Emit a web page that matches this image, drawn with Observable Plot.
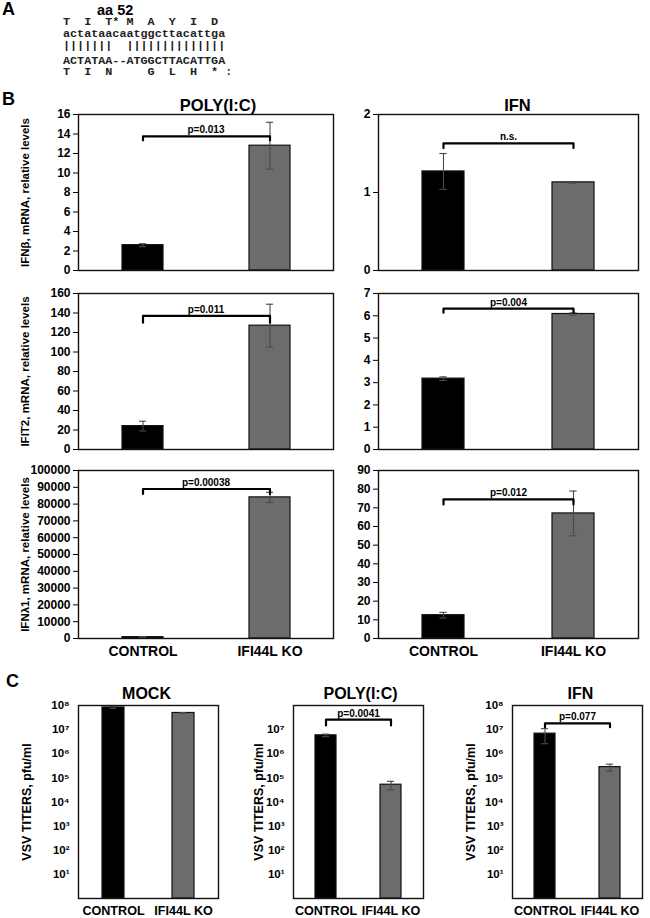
<!DOCTYPE html>
<html><head><meta charset="utf-8">
<script src="https://cdn.jsdelivr.net/npm/d3@7"></script>
<script src="https://cdn.jsdelivr.net/npm/@observablehq/plot@0.6"></script>
<style>
body{margin:0;background:#fff;}
#fig{position:relative;width:650px;height:918px;overflow:hidden;font-family:"Liberation Sans",Arial,sans-serif;color:#000;}
.abs{position:absolute;}
.letter{font-weight:bold;font-size:18px;line-height:1;}
.seqbox{position:absolute;left:63px;top:0;width:175px;height:85px;}
.seq{position:absolute;left:0;font-family:"Liberation Mono","Courier New",monospace;font-size:11.75px;font-weight:bold;white-space:pre;line-height:10px;color:#222;}
</style></head><body>
<div id="fig">
  <div class="abs letter" style="left:2px;top:0px;">A</div>
  <div class="abs" style="left:97px;top:3px;font-weight:bold;font-size:14.5px;line-height:14px;">aa 52</div>
  <div class="seqbox" id="seqbox"></div>
  <div class="abs letter" style="left:2px;top:90px;">B</div>
  <div class="abs letter" style="left:6px;top:672px;">C</div>
</div>
<script>
// ---- Panel A: sequence alignment text ----
const seqRows = [
  "T  I  T* M  A  Y  I  D",
  "actataacaatggcttacattga",
  "|||||||  ||||||||||||||",
  "ACTATAA--ATGGCTTACATTGA",
  "T  I  N     G  L  H  * :"
];
// ---- Panel B / C data ----
const groups = ["CONTROL", "IFI44L KO"];

const ifnbPoly = [2.6, 12.8],   ifnbPolyErr = [0.15, 2.4],  ifnbPolyBracket = [13.35, 13.75];
const ifnbIfn  = [1.27, 1.13],  ifnbIfnErr  = [0.23, 0.01], ifnbIfnBracket  = [1.57, 1.63];
const ifit2Poly = [24, 127],    ifit2PolyErr = [5, 22],     ifit2PolyBracket = [130, 137];
const ifit2Ifn  = [3.18, 6.08], ifit2IfnErr  = [0.08, 0.05], ifit2IfnBracket = [6.14, 6.32];
const ifnl1Poly = [800, 84000], ifnl1PolyErr = [300, 3000], ifnl1PolyBracket = [86000, 89000];
const ifnl1Ifn  = [12.5, 67],   ifnl1IfnErr  = [1.5, 12],   ifnl1IfnBracket  = [71.8, 74.5];

const vsvMock = [8.3e7, 4.9e7], vsvMockErr = [0.7e7, 0.2e7];
const vsvPoly = [5.8e6, 5.2e4], vsvPolyErr = [0.7e6, 2.0e4], vsvPolyBracket = [1.5e7, 2.6e7];
const vsvIfn  = [6.8e6, 2.8e5], vsvIfnErr  = [4.2e6, 0.9e5], vsvIfnBracket  = [1.26e7, 1.8e7];

const pLabels = ["p=0.013", "n.s.", "p=0.011", "p=0.004", "p=0.00038", "p=0.012", "p=0.0041", "p=0.077"];

const ticksIfnbPoly = [0, 2, 4, 6, 8, 10, 12, 14, 16];
const ticksIfnbIfn = [0, 1, 2];
const ticksIfit2Poly = [0, 20, 40, 60, 80, 100, 120, 140, 160];
const ticksIfit2Ifn = [0, 1, 2, 3, 4, 5, 6, 7];
const ticksIfnl1Poly = [0, 10000, 20000, 30000, 40000, 50000, 60000, 70000, 80000, 90000, 100000];
const ticksIfnl1Ifn = [0, 10, 20, 30, 40, 50, 60, 70, 80, 90];
const ticksVsv8 = [1e1, 1e2, 1e3, 1e4, 1e5, 1e6, 1e7, 1e8];
const ticksVsv7 = [1e1, 1e2, 1e3, 1e4, 1e5, 1e6, 1e7];

const yLabelsB = ["IFNβ, mRNA, relative levels", "IFIT2, mRNA, relative levels", "IFNλ1, mRNA, relative levels"];
const yLabelC = "VSV TITERS, pfu/ml";
const titles = ["POLY(I:C)", "IFN", "MOCK"];

// ---- render panel A text ----
const seqTops = [17, 28.5, 41, 55.5, 66.5];
const box = document.getElementById("seqbox");
seqRows.forEach((r, i) => {
  const d = document.createElement("div");
  d.className = "seq";
  d.style.top = seqTops[i] + "px";
  d.textContent = r;
  box.appendChild(d);
});

// ---- chart builder ----
const supMap = {"0":"⁰","1":"¹","2":"²","3":"³","4":"⁴","5":"⁵","6":"⁶","7":"⁷","8":"⁸","9":"⁹"};
const fmtPow = d => "10" + String(Math.round(Math.log10(d))).split("").map(c => supMap[c]).join("");
const FONT = '"Liberation Sans", Arial, sans-serif';

function drawPanel(c) {
  const width = c.fw + c.ml + c.mr, height = c.fh + c.mt + c.mb;
  const isLog = c.type === "log";
  const data = groups.map((g, i) => ({g, v: c.values[i], e: c.errors[i]}));
  const bw = c.fw * 0.5 * (1 - 0.68);
  const capInset = Math.max(0, (bw - 7) / 2);
  const marks = [
    Plot.barY(data, {x: "g", y1: isLog ? 1 : 0, y2: "v", fill: "g", stroke: "#111", strokeWidth: 1.2}),
    Plot.ruleX(data, {x: "g", y1: d => d.v - d.e, y2: d => d.v + d.e, stroke: "#4a4a4a", strokeWidth: 1.1}),
    Plot.tickY(data, {x: "g", y: d => d.v + d.e, insetLeft: capInset, insetRight: capInset, stroke: "#4a4a4a", strokeWidth: 1.1}),
    Plot.tickY(data, {x: "g", y: d => d.v - d.e, insetLeft: capInset, insetRight: capInset, stroke: "#4a4a4a", strokeWidth: 1.1}),
    Plot.frame({stroke: "#111", strokeWidth: 1.4}),
    Plot.axisY({ticks: c.ticks, tickFormat: isLog ? fmtPow : d3.format("d"), tickSize: c.tickSize, tickPadding: c.tickPadding,
      fontSize: c.tickFont, fontWeight: "bold", label: null})
  ];
  if (c.bracket) {
    const [lo, hi] = c.bracket;
    const pts = [{g: groups[0], y: lo}, {g: groups[0], y: hi}, {g: groups[1], y: hi}, {g: groups[1], y: lo}];
    marks.push(Plot.line(pts, {x: "g", y: "y", stroke: "#000", strokeWidth: 2.2}));
    marks.push(Plot.text([c.p], {frameAnchor: "middle", y: () => hi, dx: c.pDx || 0, dy: -3, lineAnchor: "bottom", fontSize: 10, fontWeight: "bold"}));
  }
  if (c.ylabel) {
    marks.push(Plot.text([c.ylabel], {frameAnchor: "left", rotate: -90, dx: c.labelDx, textAnchor: "middle", lineAnchor: "middle",
      fontSize: c.labelFont, fontWeight: "bold"}));
  }
  if (c.title) {
    marks.push(Plot.text([c.title], {frameAnchor: "top", dx: c.titleDx, dy: c.titleDy, lineAnchor: "middle", fontSize: c.titleFont, fontWeight: "bold"}));
  }
  if (c.xaxis) {
    marks.push(Plot.axisX({tickSize: 0, tickPadding: c.xPad, fontSize: c.xFont, fontWeight: "bold", label: null}));
  }
  const svg = Plot.plot({
    width, height,
    marginLeft: c.ml, marginRight: c.mr, marginTop: c.mt, marginBottom: c.mb,
    x: {type: "band", domain: groups, paddingInner: 0.68, paddingOuter: 0.34, axis: c.xaxis ? undefined : null},
    y: {type: c.type, domain: c.domain},
    color: {domain: groups, range: ["#000000", "#6c6c6c"]},
    style: {fontFamily: FONT, background: "transparent", color: "#000", overflow: "visible", maxWidth: "none"},
    marks
  });
  const div = document.createElement("div");
  div.className = "abs";
  div.style.left = (c.fx - c.ml) + "px";
  div.style.top = (c.fy - c.mt) + "px";
  div.style.width = width + "px";
  div.appendChild(svg);
  document.getElementById("fig").appendChild(div);
}

const B = {type: "linear", tickSize: 5, tickPadding: 3, tickFont: 12, labelFont: 11.5, titleFont: 16.5, xFont: 14, xPad: 8};
const C = {type: "log", domain: [1, 1e8], tickSize: 0, tickPadding: 9, tickFont: 11.5, labelFont: 12.5, titleFont: 16, xFont: 12.6, xPad: 8, fy: 705, fh: 193, mt: 30, mb: 20, labelDx: 0};

const panels = [
  {...B, fx: 78, fy: 114, fw: 255, fh: 156, ml: 78, mr: 8, mt: 26, mb: 6, domain: [0, 16], ticks: ticksIfnbPoly,
   values: ifnbPoly, errors: ifnbPolyErr, bracket: ifnbPolyBracket, p: pLabels[0], ylabel: yLabelsB[0], labelDx: -53,
   title: titles[0], titleDx: 12, titleDy: -9},
  {...B, fx: 378, fy: 114, fw: 260, fh: 156, ml: 40, mr: 8, mt: 26, mb: 6, domain: [0, 2], ticks: ticksIfnbIfn,
   values: ifnbIfn, errors: ifnbIfnErr, bracket: ifnbIfnBracket, p: pLabels[1],
   title: titles[1], titleDx: 9, titleDy: -9},
  {...B, fx: 78, fy: 293, fw: 255, fh: 156, ml: 78, mr: 8, mt: 8, mb: 6, domain: [0, 160], ticks: ticksIfit2Poly,
   values: ifit2Poly, errors: ifit2PolyErr, bracket: ifit2PolyBracket, p: pLabels[2], ylabel: yLabelsB[1], labelDx: -53},
  {...B, fx: 378, fy: 293, fw: 260, fh: 156, ml: 40, mr: 8, mt: 8, mb: 6, domain: [0, 7], ticks: ticksIfit2Ifn,
   values: ifit2Ifn, errors: ifit2IfnErr, bracket: ifit2IfnBracket, p: pLabels[3]},
  {...B, fx: 78, fy: 470, fw: 255, fh: 168, ml: 78, mr: 8, mt: 8, mb: 30, domain: [0, 100000], ticks: ticksIfnl1Poly,
   values: ifnl1Poly, errors: ifnl1PolyErr, bracket: ifnl1PolyBracket, p: pLabels[4], ylabel: yLabelsB[2], labelDx: -53, xaxis: true},
  {...B, fx: 378, fy: 470, fw: 260, fh: 168, ml: 40, mr: 8, mt: 8, mb: 30, domain: [0, 90], ticks: ticksIfnl1Ifn,
   values: ifnl1Ifn, errors: ifnl1IfnErr, bracket: ifnl1IfnBracket, p: pLabels[5], xaxis: true},
  {...C, fx: 78, fw: 140, ml: 78, mr: 6, ticks: ticksVsv8, values: vsvMock, errors: vsvMockErr,
   ylabel: yLabelC, labelDx: -52, title: titles[2], titleDx: -2, titleDy: -12, xaxis: true},
  {...C, fx: 293, fw: 130, ml: 60, mr: 6, ticks: ticksVsv7, values: vsvPoly, errors: vsvPolyErr, bracket: vsvPolyBracket, p: pLabels[6],
   ylabel: yLabelC, labelDx: -35, title: titles[0], titleDx: 2, titleDy: -12, xaxis: true},
  {...C, fx: 512, fw: 130, ml: 60, mr: 6, ticks: ticksVsv8, values: vsvIfn, errors: vsvIfnErr, bracket: vsvIfnBracket, p: pLabels[7],
   ylabel: yLabelC, labelDx: -42, title: titles[1], titleDx: 3, titleDy: -12, xaxis: true}
];
panels.forEach(drawPanel);
</script>
</body></html>
